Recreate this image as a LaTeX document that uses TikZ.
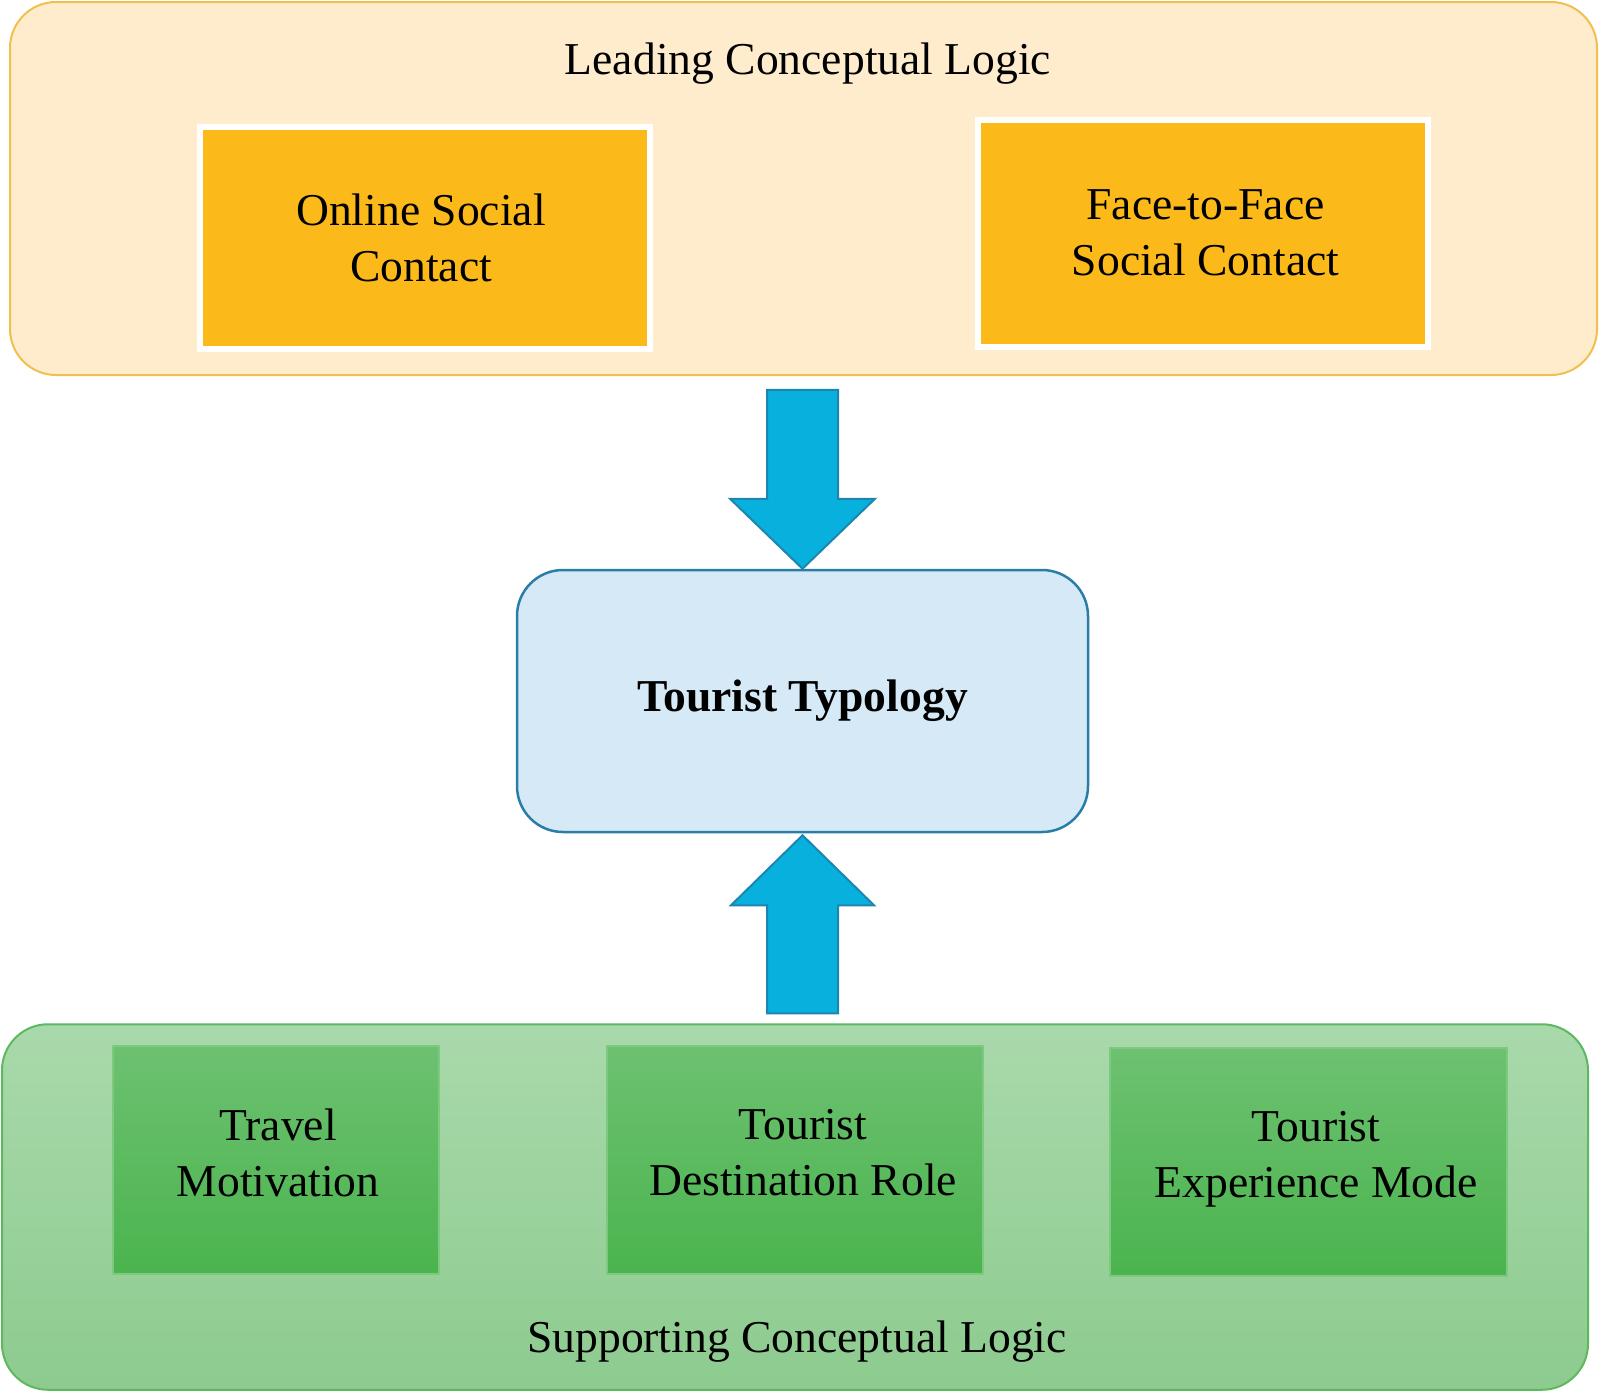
\documentclass[tikz,border=0pt]{standalone}
\usepackage{fontspec}
\setmainfont{Liberation Serif}
\usetikzlibrary{calc}
\definecolor{leadfill}{HTML}{FEECCD}
\definecolor{leaddraw}{HTML}{F0C04E}
\definecolor{orangebox}{HTML}{FBBA1A}
\definecolor{arrowfill}{HTML}{08B0DD}
\definecolor{arrowdraw}{HTML}{1C86B0}
\definecolor{typfill}{HTML}{D5EAF6}
\definecolor{typdraw}{HTML}{2A7DA6}
\definecolor{suptop}{HTML}{A9D9AB}
\definecolor{supbot}{HTML}{8DCB8F}
\definecolor{supdraw}{HTML}{5DB85F}
\definecolor{gtop}{HTML}{6DC171}
\definecolor{gbot}{HTML}{4BB44E}
\definecolor{gdraw}{HTML}{7DC97F}
\begin{document}
\begin{tikzpicture}[x=1pt,y=-1pt,
  container/.style={draw, line width=2pt, rounded corners=46pt, inner sep=0pt},
  obox/.style={fill=orangebox, draw=white, line width=6pt, inner sep=0pt},
  gbox/.style={top color=gtop, bottom color=gbot, draw=gdraw, line width=2pt, inner sep=0pt},
  txt/.style={font=\fontsize{45.6}{56}\selectfont, align=center, inner sep=0pt},
  blockarrow/.style={fill=arrowfill, draw=arrowdraw, line width=2pt, line join=miter}
]
\useasboundingbox (0,0) rectangle (1600,1393);

% top container
\node[container, fill=leadfill, draw=leaddraw, minimum width=1587pt, minimum height=373pt] (lead) at (803.5,188.5) {};
\node[txt] (leadtitle) at (808,64) {Leading Conceptual Logic};
\node[obox, minimum width=450pt, minimum height=222pt] (online) at (425,237.75) {};
\node[txt] (onlinetxt) at (421,238) {Online Social\\Contact};
\node[obox, minimum width=450pt, minimum height=227pt] (face) at (1202.5,233.5) {};
\node[txt] (facetxt) at (1205.5,233) {Face-to-Face\\Social Contact};

% center
\node[draw=typdraw, fill=typfill, line width=2.5pt, rounded corners=46pt, minimum width=571pt, minimum height=262pt, inner sep=0pt,
      font=\fontsize{45.6}{56}\selectfont\bfseries] (typ) at (802.5,701) {Tourist Typology};

% bottom container
\node[container, top color=suptop, bottom color=supbot, draw=supdraw, minimum width=1586pt, minimum height=365.5pt] (sup) at (795,1207) {};
\node[txt] (suptitle) at (797,1342) {Supporting Conceptual Logic};
\node[gbox, minimum width=326pt, minimum height=227.5pt] (travel) at (276,1159.75) {};
\node[gbox, minimum width=376pt, minimum height=227.5pt] (dest) at (795,1159.75) {};
\node[gbox, minimum width=397pt, minimum height=227.5pt] (exp) at (1308.5,1161.75) {};
\node[txt] (traveltxt) at (278,1153) {Travel\\Motivation};
\node[txt] (desttxt) at (803,1153) {Tourist\\Destination Role};
\node[txt] (exptxt) at (1316,1159) {Tourist\\Experience Mode};

% arrows
\draw[blockarrow] (typ.north)
  -- ($(typ.north)+(72.5,-70)$) -- ($(typ.north)+(35.5,-70)$)
  -- ($(typ.north)+(35.5,-179)$) -- ($(typ.north)+(-35.5,-179)$)
  -- ($(typ.north)+(-35.5,-70)$) -- ($(typ.north)+(-72.5,-70)$) -- cycle;
\draw[blockarrow] ($(typ.south)+(0,2)$)
  -- ($(typ.south)+(71.5,72)$) -- ($(typ.south)+(35.5,72)$)
  -- ($(typ.south)+(35.5,180)$) -- ($(typ.south)+(-35.5,180)$)
  -- ($(typ.south)+(-35.5,72)$) -- ($(typ.south)+(-71.5,72)$) -- cycle;
\end{tikzpicture}
\end{document}
